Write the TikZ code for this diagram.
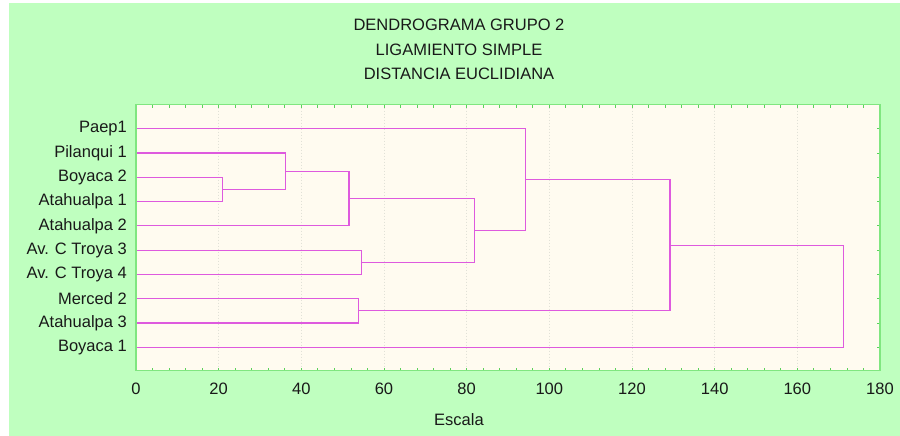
\documentclass[tikz,border=0pt]{standalone}
\usepackage{fontspec}
\setmainfont{Liberation Sans}
\definecolor{bggreen}{RGB}{191,255,191}
\definecolor{plotbg}{RGB}{255,251,240}
\definecolor{frame}{RGB}{128,230,128}
\definecolor{tickc}{RGB}{90,210,90}
\definecolor{gridc}{RGB}{225,225,215}
\definecolor{link}{RGB}{222,90,222}
\definecolor{txt}{RGB}{25,25,25}
\tikzset{
  lbl/.style={anchor=east, inner sep=0pt, text=txt, font=\fontsize{16.5}{19}\selectfont},
  ticklbl/.style={anchor=center, inner sep=0pt, text=txt, font=\fontsize{16.5}{19}\selectfont},
  ttl/.style={anchor=center, inner sep=0pt, text=txt, font=\fontsize{16.5}{19}\selectfont},
  linkline/.style={draw=link, line width=1.1pt},
  gridline/.style={draw=gridc, line width=0.8pt, dash pattern=on 1.5pt off 1.5pt},
  tickline/.style={draw=tickc, line width=0.8pt},
}
\begin{document}
\begin{tikzpicture}[x=1pt,y=-1pt]
\useasboundingbox (0,0) rectangle (900,436);
\fill[white] (0,0) rectangle (900,436);
\fill[bggreen] (9,3) rectangle (900,436);
\fill[plotbg] (136,104.7) rectangle (880,370.7);
% grid
\foreach \v in {20,40,...,160} {
  \draw[gridline] ({136+\v*4.1333},104.7) -- ({136+\v*4.1333},370.7);
}
% ticks top/bottom
\foreach \v in {4,8,...,176} {
  \draw[tickline] ({136+\v*4.1333},104.7) -- ({136+\v*4.1333},107.7);
  \draw[tickline] ({136+\v*4.1333},370.7) -- ({136+\v*4.1333},367.7);
}
% titles
\node[ttl] (t1) at (459,25) {DENDROGRAMA GRUPO 2};
\node[ttl] (t2) at (459,49.5) {LIGAMIENTO SIMPLE};
\node[ttl] (t3) at (459,74) {DISTANCIA EUCLIDIANA};
% leaves
\foreach \i/\name [count=\k] in {1/Paep1,2/Pilanqui 1,3/Boyaca 2,4/Atahualpa 1,5/Atahualpa 2,6/Av. C Troya 3,7/Av. C Troya 4,8/Merced 2,9/Atahualpa 3,10/Boyaca 1} {
  \node[lbl] (n\i) at (127,{128.7+(\i-1)*24.29}) {\name};
  \coordinate (l\i) at (136,{128.7+(\i-1)*24.29});
  \draw[tickline] (880,{128.7+(\i-1)*24.29}) -- (877,{128.7+(\i-1)*24.29});
}
% merges
\coordinate (m1) at (222.3,189.4);
\coordinate (m2) at (285.3,171.2);
\coordinate (m3) at (349,198.6);
\coordinate (m4) at (361.7,262.3);
\coordinate (m5) at (358.3,310.8);
\coordinate (m6) at (474.3,230.4);
\coordinate (m7) at (525.3,179.6);
\coordinate (m8) at (670,245.2);
\coordinate (m9) at (843.7,296.3);
\draw[linkline] (l3) -| (m1) |- (l4);
\draw[linkline] (l2) -| (m2) |- (m1);
\draw[linkline] (m2) -| (m3) |- (l5);
\draw[linkline] (l6) -| (m4) |- (l7);
\draw[linkline] (l8) -| (m5) |- (l9);
\draw[linkline] (m3) -| (m6) |- (m4);
\draw[linkline] (l1) -| (m7) |- (m6);
\draw[linkline] (m7) -| (m8) |- (m5);
\draw[linkline] (m8) -| (m9) |- (l10);
% frame
\draw[draw=frame, line width=1.5pt] (136,104.7) rectangle (880,370.7);
% axis labels
\foreach \v in {0,20,...,180} {
  \node[ticklbl] (x\v) at ({136+\v*4.1333},389) {\v};
}
\node[ticklbl] (esc) at (459,420) {Escala};
\end{tikzpicture}
\end{document}
